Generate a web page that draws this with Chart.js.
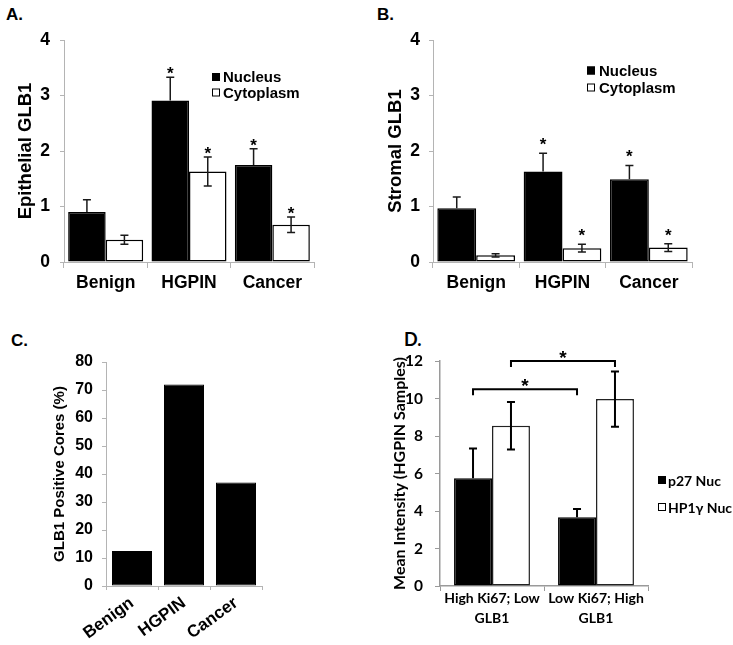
<!DOCTYPE html>
<html><head><meta charset="utf-8">
<script src="https://cdn.jsdelivr.net/npm/chart.js@4.4.0/dist/chart.umd.min.js"></script>
<style>
html,body{margin:0;padding:0;background:#fff;}
body{width:733px;height:645px;position:relative;overflow:hidden;font-family:"Liberation Sans",Arial,sans-serif;}
.box{position:absolute;}
.lbl{position:absolute;font-weight:bold;color:#000;line-height:1;}
</style></head><body>
<div class="lbl" style="left:6px;top:6px;font-size:17px;">A.</div>
<div class="lbl" style="left:377px;top:6px;font-size:17px;">B.</div>
<div class="lbl" style="left:11px;top:332px;font-size:17px;">C.</div>
<div class="lbl" style="left:404px;top:330px;font-size:18px;font-family:Lato,sans-serif;">D.</div>
<div class="box" style="left:0;top:0;"><canvas id="cA" width="366" height="310"></canvas></div>
<div class="box" style="left:370px;top:0;"><canvas id="cB" width="363" height="310"></canvas></div>
<div class="box" style="left:0;top:320px;"><canvas id="cC" width="366" height="325"></canvas></div>
<div class="box" style="left:370px;top:320px;"><canvas id="cD" width="363" height="325"></canvas></div>
<script>
// ---------- data ----------
const categories = ['Benign', 'HGPIN', 'Cancer'];
const seriesNames = ['Nucleus', 'Cytoplasm'];
const epiNucleus = [0.90, 2.91, 1.75];
const epiNucleusErr = [0.22, 0.42, 0.29];
const epiCytoplasm = [0.40, 1.63, 0.67];
const epiCytoplasmErr = [0.08, 0.26, 0.14];
const stromaNucleus = [0.97, 1.63, 1.49];
const stromaNucleusErr = [0.20, 0.33, 0.25];
const stromaCytoplasm = [0.12, 0.25, 0.26];
const stromaCytoplasmErr = [0.03, 0.07, 0.07];
const significant = [false, true, true];
const positiveCores = [12.5, 72, 37];
const dCategories = [['High Ki67; Low', 'GLB1'], ['Low Ki67; High', 'GLB1']];
const dSeriesNames = ['p27 Nuc', 'HP1\u03b3 Nuc'];
const p27Nuc = [5.75, 3.67];
const p27NucErr = [1.58, 0.44];
const hp1Nuc = [8.55, 9.97];
const hp1NucErr = [1.27, 1.47];
const dBrackets = [
  { from: [0, 0], to: [0, 1], value: 10.5 },
  { from: [1, 0], to: [1, 1], value: 12.0 }
];
const abTicks = [0, 1, 2, 3, 4];

// ---------- plugins ----------
const errPlugin = {
  id: 'errs',
  afterDatasetsDraw(chart, args, opts) {
    const ctx = chart.ctx, y = chart.scales.y;
    chart.data.datasets.forEach((ds, di) => {
      const meta = chart.getDatasetMeta(di);
      meta.data.forEach((bar, i) => {
        const v = ds.data[i];
        const e = ds.errors ? ds.errors[i] : 0;
        const top = y.getPixelForValue(v + e);
        if (ds.errors) {
          const lowerVisible = ds.backgroundColor !== '#000000';
          const bot = lowerVisible ? y.getPixelForValue(v - e) : y.getPixelForValue(v);
          const cap = opts.cap || 4;
          ctx.save();
          ctx.strokeStyle = opts.color || '#111';
          ctx.lineWidth = opts.width || 1.5;
          ctx.beginPath();
          ctx.moveTo(bar.x, bot); ctx.lineTo(bar.x, top);
          ctx.moveTo(bar.x - cap, top); ctx.lineTo(bar.x + cap, top);
          if (lowerVisible) { ctx.moveTo(bar.x - cap, bot); ctx.lineTo(bar.x + cap, bot); }
          ctx.stroke();
          ctx.restore();
        }
        if (ds.sig && ds.sig[i]) {
          ctx.save();
          ctx.fillStyle = '#000';
          ctx.font = opts.starFont || 'bold 17px "Liberation Sans", Arial';
          ctx.textAlign = 'center';
          ctx.textBaseline = 'alphabetic';
          ctx.fillText('*', bar.x, top + (opts.starShift || 2));
          ctx.restore();
        }
      });
    });
  }
};

const legendPlugin = {
  id: 'boxLegend',
  afterDraw(chart, args, opts) {
    if (!opts || opts.x === undefined) return;
    const ctx = chart.ctx;
    chart.data.datasets.forEach((ds, i) => {
      const cy = opts.y + i * opts.gap;
      const s = opts.box;
      ctx.save();
      ctx.fillStyle = ds.backgroundColor;
      ctx.fillRect(opts.x, cy - s / 2, s, s);
      ctx.strokeStyle = '#000';
      ctx.lineWidth = 1;
      ctx.strokeRect(opts.x + 0.5, cy - s / 2 + 0.5, s - 1, s - 1);
      ctx.fillStyle = '#000';
      ctx.font = opts.font;
      ctx.textBaseline = 'middle';
      ctx.textAlign = 'left';
      ctx.fillText(ds.label, opts.x + s + opts.textGap, cy + 1);
      ctx.restore();
    });
  }
};

const bracketPlugin = {
  id: 'brackets',
  afterDraw(chart, args, opts) {
    if (!opts || !opts.items) return;
    const ctx = chart.ctx, y = chart.scales.y;
    opts.items.forEach(b => {
      const x1 = chart.getDatasetMeta(b.from[0]).data[b.from[1]].x;
      const x2 = chart.getDatasetMeta(b.to[0]).data[b.to[1]].x;
      const py = y.getPixelForValue(b.value);
      ctx.save();
      ctx.strokeStyle = '#000';
      ctx.lineWidth = 2;
      ctx.beginPath();
      ctx.moveTo(x1, py + 6); ctx.lineTo(x1, py); ctx.lineTo(x2, py); ctx.lineTo(x2, py + 6);
      ctx.stroke();
      ctx.fillStyle = '#000';
      ctx.font = opts.font;
      ctx.textAlign = 'center';
      ctx.textBaseline = 'alphabetic';
      ctx.fillText('*', (x1 + x2) / 2, py + 3);
      ctx.restore();
    });
  }
};

const AX = '#b4b4b4';
const ARIAL = '"Liberation Sans", Arial, sans-serif';

function barDs(label, data, color, errors, sig) {
  return {
    label, data, errors, sig,
    backgroundColor: color,
    borderColor: '#000',
    borderWidth: 1.5,
    borderSkipped: false,
    categoryPercentage: 0.9,
    barPercentage: 1.0
  };
}

function panelAB(id, nuc, nucErr, cyto, cytoErr, title, yW, padR, titlePad, tickPad, legend, starShift) {
  return new Chart(document.getElementById(id), {
    type: 'bar',
    data: {
      labels: categories,
      datasets: [
        barDs(seriesNames[0], nuc, '#000000', nucErr, significant),
        barDs(seriesNames[1], cyto, '#ffffff', cytoErr, significant)
      ]
    },
    plugins: [errPlugin, legendPlugin],
    options: {
      responsive: false,
      animation: false,
      events: [],
      layout: { padding: { left: 0, top: 40, right: padR, bottom: 0 } },
      plugins: {
        legend: { display: false },
        tooltip: { enabled: false },
        errs: { cap: 4, width: 1.5, color: '#1a1a1a', starShift: starShift, starFont: 'bold 17px ' + ARIAL },
        boxLegend: legend
      },
      scales: {
        x: {
          afterFit(s) { s.height = 48; },
          grid: { display: true, drawOnChartArea: false, drawTicks: true, tickLength: 6, color: AX, offset: true },
          border: { display: true, color: AX, width: 1 },
          ticks: { color: '#000', font: { family: ARIAL, size: 17.5, weight: 'bold' }, padding: 5, maxRotation: 0, autoSkip: false }
        },
        y: {
          min: 0, max: 4,
          afterFit(s) { s.width = yW; },
          afterBuildTicks(s) { s.ticks = abTicks.map(v => ({ value: v })); },
          grid: { display: true, drawOnChartArea: false, drawTicks: true, tickLength: 4, color: AX },
          border: { display: true, color: AX, width: 1 },
          ticks: { color: '#000', font: { family: ARIAL, size: 17.5, weight: 'bold' }, padding: tickPad },
          title: { display: true, text: title, color: '#000', font: { family: ARIAL, size: 18.5, weight: 'bold' }, padding: { top: 15, bottom: 0 } }
        }
      }
    }
  });
}

panelAB('cA', epiNucleus, epiNucleusErr, epiCytoplasm, epiCytoplasmErr, 'Epithelial GLB1', 64, 52, 16, 10,
  { x: 212, y: 77, gap: 15.5, box: 8, textGap: 3, font: 'bold 15px ' + ARIAL }, 2);
panelAB('cB', stromaNucleus, stromaNucleusErr, stromaCytoplasm, stromaCytoplasmErr, 'Stromal GLB1', 63, 41, 15, 9,
  { x: 217, y: 70.5, gap: 17, box: 8, textGap: 4, font: 'bold 15px ' + ARIAL }, -3);

// Panel C
new Chart(document.getElementById('cC'), {
  type: 'bar',
  data: {
    labels: categories,
    datasets: [{
      label: 'GLB1 Positive Cores (%)',
      data: positiveCores,
      backgroundColor: '#000', borderColor: '#000', borderWidth: 1,
      borderSkipped: false, categoryPercentage: 0.77, barPercentage: 1.0
    }]
  },
  options: {
    responsive: false, animation: false, events: [],
    layout: { padding: { left: 0, top: 42, right: 104, bottom: 0 } },
    plugins: { legend: { display: false }, tooltip: { enabled: false } },
    scales: {
      x: {
        afterFit(s) { s.height = 59; },
        grid: { display: true, drawOnChartArea: false, drawTicks: true, tickLength: 4, color: AX, offset: true },
        border: { display: true, color: AX, width: 1 },
        ticks: { color: '#000', font: { family: ARIAL, size: 17, weight: 'bold' }, padding: 3, minRotation: 36, maxRotation: 36, autoSkip: false }
      },
      y: {
        min: 0, max: 80,
        afterFit(s) { s.width = 106; },
        grid: { display: true, drawOnChartArea: false, drawTicks: true, tickLength: 4, color: AX },
        border: { display: true, color: AX, width: 1 },
        ticks: { stepSize: 10, color: '#000', font: { family: ARIAL, size: 16, weight: 'bold' }, padding: 9 },
        title: { display: true, text: 'GLB1 Positive Cores (%)', color: '#000', font: { family: ARIAL, size: 15, weight: 'bold' }, padding: { top: 51, bottom: 0 } }
      }
    }
  }
});

// Panel D
const LATO = 'Lato, "Open Sans", sans-serif';
new Chart(document.getElementById('cD'), {
  type: 'bar',
  data: {
    labels: dCategories,
    datasets: [
      { label: dSeriesNames[0], data: p27Nuc, errors: p27NucErr, backgroundColor: '#000000', borderColor: '#000', borderWidth: 1.5, borderSkipped: false, categoryPercentage: 0.73, barPercentage: 1.0 },
      { label: dSeriesNames[1], data: hp1Nuc, errors: hp1NucErr, backgroundColor: '#ffffff', borderColor: '#222', borderWidth: 1.5, borderSkipped: false, categoryPercentage: 0.73, barPercentage: 1.0 }
    ]
  },
  plugins: [errPlugin, legendPlugin, bracketPlugin],
  options: {
    responsive: false, animation: false, events: [],
    layout: { padding: { left: 0, top: 41, right: 85, bottom: 0 } },
    plugins: {
      legend: { display: false }, tooltip: { enabled: false },
      errs: { cap: 4, width: 2, color: '#000' },
      boxLegend: { x: 288, y: 160, gap: 27, box: 8, textGap: 2, font: 'bold 14px ' + LATO },
      brackets: { items: dBrackets, font: 'bold 19px ' + ARIAL }
    },
    scales: {
      x: {
        afterFit(s) { s.height = 59; },
        grid: { display: true, drawOnChartArea: false, drawTicks: true, tickLength: 5, color: '#9a9a9a', offset: true },
        border: { display: true, color: '#9a9a9a', width: 1.5 },
        ticks: { color: '#000', font: { family: LATO, size: 14, weight: 'bold', lineHeight: 1.4 }, padding: -2, maxRotation: 0, autoSkip: false }
      },
      y: {
        min: 0, max: 12,
        afterFit(s) { s.width = 70; },
        grid: { display: true, drawOnChartArea: false, drawTicks: true, tickLength: 5, color: '#9a9a9a' },
        border: { display: true, color: '#9a9a9a', width: 1.5 },
        ticks: { stepSize: 2, color: '#000', font: { family: LATO, size: 15.5, weight: 'bold' }, padding: 12 },
        title: { display: true, text: 'Mean Intensity (HGPIN Samples)', color: '#000', font: { family: LATO, size: 16, weight: 'bold' }, padding: { top: 20, bottom: 0 } }
      }
    }
  }
});
</script>
</body></html>
